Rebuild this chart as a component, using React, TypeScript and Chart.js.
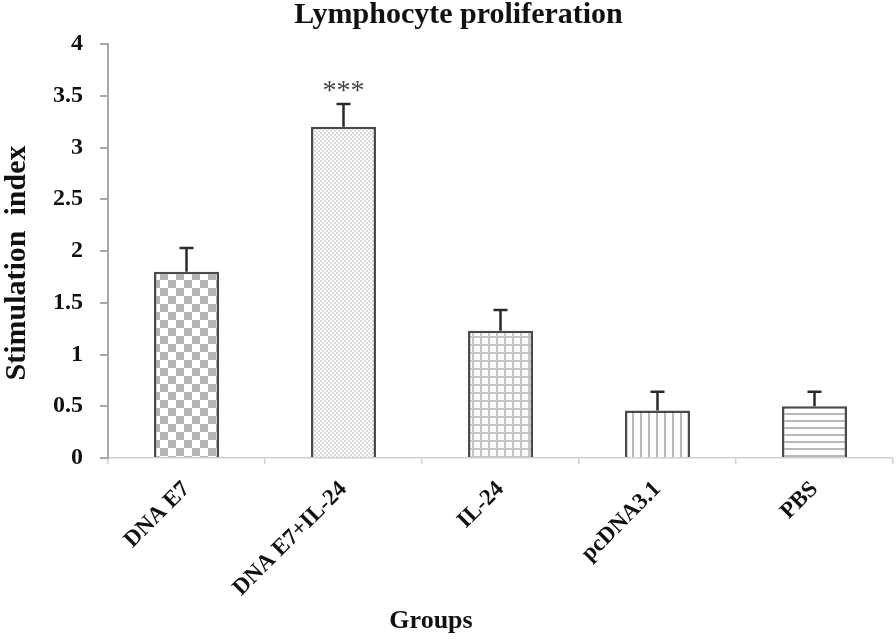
import React, { useEffect, useRef } from "react";
import { Chart, registerables } from "chart.js";

Chart.register(...registerables);

const categories = ["DNA E7", "DNA E7+IL-24", "IL-24", "pcDNA3.1", "PBS"];
const meanValues = [1.8, 3.2, 1.23, 0.46, 0.5];
const errorValues = [0.23, 0.22, 0.2, 0.18, 0.14];
const significance = ["", "***", "", "", ""];
const yTicks = [0, 0.5, 1, 1.5, 2, 2.5, 3, 3.5, 4];

const SERIF = "'Liberation Serif', 'Times New Roman', serif";

function makePattern(kind: string): CanvasPattern | string {
  const c = document.createElement("canvas");
  const ctx = c.getContext("2d")!;
  if (kind === "checker") {
    c.width = 16; c.height = 16;
    ctx.fillStyle = "#fff"; ctx.fillRect(0, 0, 16, 16);
    ctx.fillStyle = "#b4b4b4";
    ctx.fillRect(0, 0, 8, 8); ctx.fillRect(8, 8, 8, 8);
  } else if (kind === "dots") {
    c.width = 4; c.height = 4;
    ctx.fillStyle = "#fff"; ctx.fillRect(0, 0, 4, 4);
    ctx.fillStyle = "#dcdcdc";
    ctx.fillRect(0, 0, 2, 2); ctx.fillRect(2, 2, 2, 2);
  } else if (kind === "grid") {
    c.width = 8; c.height = 8;
    ctx.fillStyle = "#fff"; ctx.fillRect(0, 0, 8, 8);
    ctx.fillStyle = "#c4c4c4";
    ctx.fillRect(0, 0, 2, 8); ctx.fillRect(0, 0, 8, 2);
  } else if (kind === "vlines") {
    c.width = 8; c.height = 8;
    ctx.fillStyle = "#fff"; ctx.fillRect(0, 0, 8, 8);
    ctx.fillStyle = "#b8b8b8";
    ctx.fillRect(0, 0, 2, 8);
  } else {
    c.width = 7; c.height = 7;
    ctx.fillStyle = "#fff"; ctx.fillRect(0, 0, 7, 7);
    ctx.fillStyle = "#b8b8b8";
    ctx.fillRect(0, 0, 7, 2);
  }
  return ctx.createPattern(c, "repeat") || "#ccc";
}

const patternKinds = ["checker", "dots", "grid", "vlines", "hlines"];

const overlayPlugin = {
  id: "overlay",
  afterDatasetsDraw(chart: any) {
    const ctx = chart.ctx;
    const x = chart.scales.x;
    const y = chart.scales.y;
    ctx.save();
    ctx.strokeStyle = "#2a2a2a";
    ctx.lineWidth = 2.5;
    meanValues.forEach((v, i) => {
      const cx = x.getPixelForValue(i);
      const yTop = y.getPixelForValue(v);
      const yErr = y.getPixelForValue(v + errorValues[i]);
      ctx.beginPath();
      ctx.moveTo(cx, yTop);
      ctx.lineTo(cx, yErr);
      ctx.moveTo(cx - 7, yErr);
      ctx.lineTo(cx + 7, yErr);
      ctx.stroke();
      if (significance[i]) {
        ctx.fillStyle = "#444";
        ctx.font = `28px ${SERIF}`;
        ctx.textAlign = "center";
        ctx.textBaseline = "middle";
        ctx.fillText(significance[i], cx, yErr - 12);
      }
    });
    ctx.restore();
  },
  afterDraw(chart: any) {
    const ctx = chart.ctx;
    ctx.save();
    ctx.fillStyle = "#111";
    ctx.font = `bold 26px ${SERIF}`;
    ctx.textAlign = "center";
    ctx.textBaseline = "middle";
    ctx.fillText("Groups", 431, 621);
    ctx.translate(17, 263);
    ctx.rotate(-Math.PI / 2);
    ctx.font = `bold 30px ${SERIF}`;
    ctx.fillText("Stimulation  index", 0, 0);
    ctx.restore();
  },
};

export default function App() {
  const ref = useRef<HTMLCanvasElement>(null);
  useEffect(() => {
    if (!ref.current) return;
    const chart = new Chart(ref.current, {
      type: "bar",
      data: {
        labels: categories,
        datasets: [
          {
            data: meanValues,
            backgroundColor: patternKinds.map((k) => makePattern(k)) as any,
            borderColor: "#4a4a4a",
            borderWidth: 2.5,
            barPercentage: 0.414,
            categoryPercentage: 1,
          },
        ],
      },
      options: {
        responsive: false,
        animation: false,
        layout: { padding: { left: 24, right: 3, top: 0, bottom: 0 } },
        plugins: {
          legend: { display: false },
          tooltip: { enabled: false },
          title: {
            display: true,
            text: "Lymphocyte proliferation",
            color: "#111",
            font: { family: SERIF, size: 30, weight: "bold", lineHeight: 1 },
            padding: { top: 0, bottom: 14 },
          },
        },
        scales: {
          x: {
            grid: {
              offset: true,
              drawOnChartArea: false,
              drawTicks: true,
              tickLength: 6,
              color: "#cfcfcf",
              lineWidth: 1.5,
            },
            border: { color: "#d0d0d0", width: 1.5 },
            ticks: {
              color: "#111",
              font: { family: SERIF, size: 23, weight: "bold" },
              minRotation: 45,
              maxRotation: 45,
              padding: 12,
            },
            afterFit: (s: any) => {
              s.height = 182;
            },
          },
          y: {
            min: 0,
            max: 4,
            afterBuildTicks: (s: any) => {
              s.ticks = yTicks.map((v) => ({ value: v }));
            },
            grid: {
              drawOnChartArea: false,
              drawTicks: true,
              tickLength: 8,
              color: "#a8a8a8",
              lineWidth: 2,
            },
            border: { color: "#a8a8a8", width: 2 },
            ticks: {
              color: "#111",
              font: { family: SERIF, size: 24, weight: "bold" },
              padding: 17,
              callback: (v: any) => String(v),
            },
            afterFit: (s: any) => {
              s.width = 84;
            },
          },
        },
      },
      plugins: [overlayPlugin],
    });
    return () => chart.destroy();
  }, []);
  return (
    <canvas
      ref={ref}
      width={896}
      height={640}
      style={{ position: "fixed", left: 0, top: 0, width: 896, height: 640 }}
    />
  );
}
